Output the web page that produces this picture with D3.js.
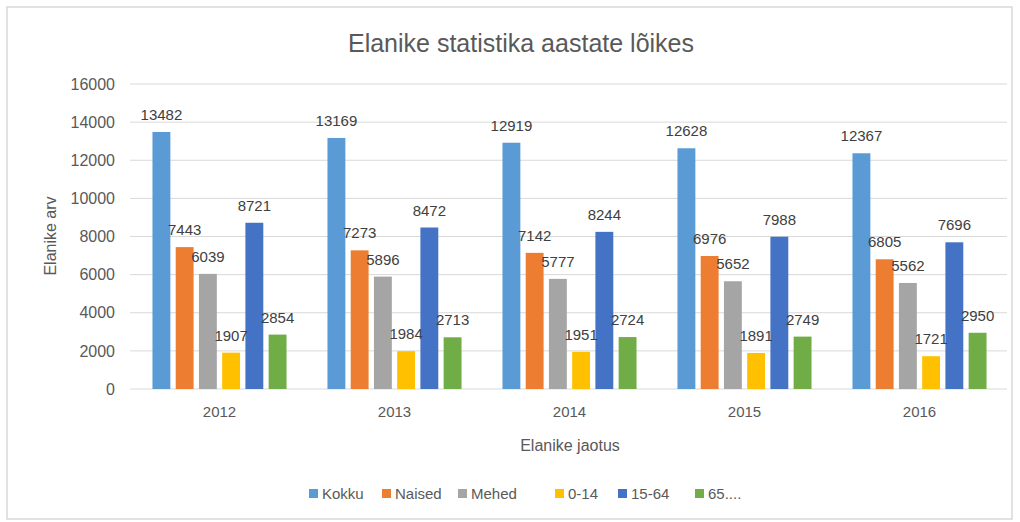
<!DOCTYPE html>
<html>
<head>
<meta charset="utf-8">
<script src="https://cdn.jsdelivr.net/npm/d3@7"></script>
<style>
  body { margin: 0; background: #fff; }
  text { font-family: "Liberation Sans", Arial, sans-serif; }
</style>
</head>
<body>
<svg id="chart" width="1020" height="522"></svg>
<script>
// data
var years = ["2012", "2013", "2014", "2015", "2016"];
var series = ["Kokku", "Naised", "Mehed", "0-14", "15-64", "65...."];
var kokku  = [13482, 13169, 12919, 12628, 12367];
var naised = [7443, 7273, 7142, 6976, 6805];
var mehed  = [6039, 5896, 5777, 5652, 5562];
var age0   = [1907, 1984, 1951, 1891, 1721];
var age15  = [8721, 8472, 8244, 7988, 7696];
var age65  = [2854, 2713, 2724, 2749, 2950];
var yTicks = [0, 2000, 4000, 6000, 8000, 10000, 12000, 14000, 16000];
var colors = ["#5b9bd5", "#ed7d31", "#a5a5a5", "#ffc000", "#4472c4", "#70ad47"];

var values = [kokku, naised, mehed, age0, age15, age65];
var rows = years.map(function(y, i){
    return {year: y, vals: values.map(function(s, k){ return {name: series[k], v: s[i], k: k}; })};
});

var svg = d3.select('#chart');
var pLeft = 132, pRight = 1007, pTop = 84, pBottom = 389;

// outer frame
svg.append('rect')
    .attr('x', 7).attr('y', 7)
    .attr('width', 1005).attr('height', 512)
    .attr('fill', 'none')
    .attr('stroke', '#d9d9d9')
    .attr('stroke-width', 1.5);

var y = d3.scaleLinear().domain([0, 16000]).range([pBottom, pTop]);
var x0 = d3.scaleBand().domain(years).range([pLeft, pRight]).paddingInner(0.234).paddingOuter(0.117);
var x1 = d3.scaleBand().domain(d3.range(series.length)).range([0, x0.bandwidth()]).paddingInner(0.23);

// gridlines
svg.append('g').selectAll('line')
    .data(yTicks)
    .enter()
    .append('line')
    .attr('x1', pLeft - 2).attr('x2', pRight)
    .attr('y1', function(d){ return y(d); })
    .attr('y2', function(d){ return y(d); })
    .attr('stroke', '#d9d9d9')
    .attr('stroke-width', 1);

// y tick labels
var yAxis = svg.append('g')
    .attr('transform', 'translate(' + 115 + ',0)')
    .call(d3.axisLeft(y).tickValues(yTicks).tickSize(0).tickPadding(0).tickFormat(d3.format('d')));
yAxis.select('.domain').remove();
yAxis.selectAll('text')
    .attr('font-size', '16px')
    .attr('font-family', '"Liberation Sans", Arial, sans-serif')
    .attr('fill', '#595959');

// x tick labels
var xAxis = svg.append('g')
    .attr('transform', 'translate(0,' + pBottom + ')')
    .call(d3.axisBottom(x0).tickSize(0).tickPadding(17));
xAxis.select('.domain').remove();
xAxis.selectAll('text')
    .attr('font-size', '15px')
    .attr('font-family', '"Liberation Sans", Arial, sans-serif')
    .attr('fill', '#595959');

// bars
var groups = svg.append('g').selectAll('g')
    .data(rows)
    .enter()
    .append('g')
    .attr('transform', function(d){ return 'translate(' + x0(d.year) + ',0)'; });

groups.selectAll('rect')
    .data(function(d){ return d.vals; })
    .enter()
    .append('rect')
    .attr('x', function(d){ return x1(d.k); })
    .attr('y', function(d){ return y(d.v); })
    .attr('width', x1.bandwidth())
    .attr('height', function(d){ return pBottom - y(d.v); })
    .attr('fill', function(d){ return colors[d.k]; });

groups.selectAll('text')
    .data(function(d){ return d.vals; })
    .enter()
    .append('text')
    .attr('x', function(d){ return x1(d.k) + x1.bandwidth() / 2; })
    .attr('y', function(d){ return y(d.v) - 12; })
    .attr('text-anchor', 'middle')
    .attr('font-size', '15px')
    .attr('fill', '#404040')
    .text(function(d){ return d.v; });

// title
svg.append('text')
    .attr('x', 521).attr('y', 52)
    .attr('text-anchor', 'middle')
    .attr('font-size', '25px')
    .attr('fill', '#595959')
    .text('Elanike statistika aastate lõikes');

// axis titles
svg.append('text')
    .attr('transform', 'translate(56,' + 236 + ') rotate(-90)')
    .attr('text-anchor', 'middle')
    .attr('font-size', '16px')
    .attr('fill', '#595959')
    .text('Elanike arv');

svg.append('text')
    .attr('x', 570).attr('y', 451)
    .attr('text-anchor', 'middle')
    .attr('font-size', '16px')
    .attr('fill', '#595959')
    .text('Elanike jaotus');

// legend
var legendX = [309, 382, 458, 555, 618, 695];
var legend = svg.append('g').selectAll('g')
    .data(series)
    .enter()
    .append('g')
    .attr('transform', function(d, i){ return 'translate(' + legendX[i] + ',494)'; });
legend.append('rect')
    .attr('x', 0).attr('y', -5)
    .attr('width', 9).attr('height', 9)
    .attr('fill', function(d, i){ return colors[i]; });
legend.append('text')
    .attr('x', 13).attr('y', 0)
    .attr('dy', '0.35em')
    .attr('font-size', '15px')
    .attr('fill', '#595959')
    .text(function(d){ return d; });
</script>
</body>
</html>
